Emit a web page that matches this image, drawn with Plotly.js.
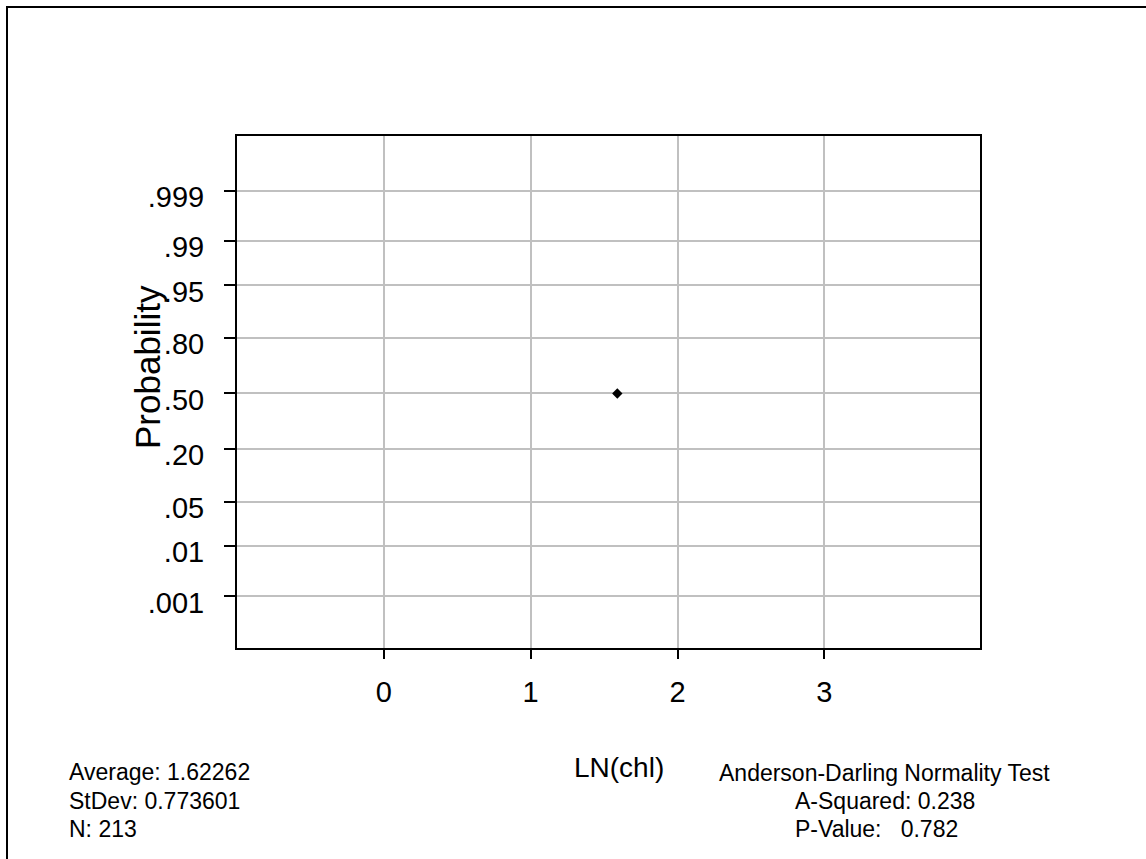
<!DOCTYPE html>
<html>
<head>
<meta charset="utf-8">
<script src="https://cdn.plot.ly/plotly-3.0.1.min.js"></script>
<style>html,body{margin:0;padding:0;background:#fff;}#chart{width:1146px;height:859px;}</style>
</head>
<body>
<div id="chart"></div>
<script>
// ---- data ----
const pointX = [1.59];
const pointProb = [0.50];
const probTicks = [0.001, 0.01, 0.05, 0.20, 0.50, 0.80, 0.95, 0.99, 0.999];
const probTickLabels = ['.001', '.01', '.05', '.20', '.50', '.80', '.95', '.99', '.999'];
const xTicks = [0, 1, 2, 3];
const xTickLabels = ['0', '1', '2', '3'];
const statsLeft = ['Average: 1.62262', 'StDev: 0.773601', 'N: 213'];
const testTitle = 'Anderson-Darling Normality Test';
const testLines = ['A-Squared: 0.238', 'P-Value:\u00a0\u00a0\u00a00.782'];

// inverse standard normal CDF (Acklam) - used as the probability-axis transform
function normInv(p) {
  const a = [-3.969683028665376e+01, 2.209460984245205e+02, -2.759285104469687e+02, 1.383577518672690e+02, -3.066479806614716e+01, 2.506628277459239e+00];
  const b = [-5.447609879822406e+01, 1.615858368580409e+02, -1.556989798598866e+02, 6.680131188771972e+01, -1.328068155288572e+01];
  const c = [-7.784894002430293e-03, -3.223964580411365e-01, -2.400758277161838e+00, -2.549732539343734e+00, 4.374664141464968e+00, 2.938163982698783e+00];
  const d = [7.784695709041462e-03, 3.224671290700398e-01, 2.445134137142996e+00, 3.754408661907416e+00];
  const pl = 0.02425, ph = 1 - pl;
  let q, r;
  if (p < pl) { q = Math.sqrt(-2 * Math.log(p)); return (((((c[0]*q+c[1])*q+c[2])*q+c[3])*q+c[4])*q+c[5]) / ((((d[0]*q+d[1])*q+d[2])*q+d[3])*q+1); }
  if (p <= ph) { q = p - 0.5; r = q*q; return (((((a[0]*r+a[1])*r+a[2])*r+a[3])*r+a[4])*r+a[5])*q / (((((b[0]*r+b[1])*r+b[2])*r+b[3])*r+b[4])*r+1); }
  q = Math.sqrt(-2 * Math.log(1 - p)); return -(((((c[0]*q+c[1])*q+c[2])*q+c[3])*q+c[4])*q+c[5]) / ((((d[0]*q+d[1])*q+d[2])*q+d[3])*q+1);
}

// ---- layout geometry (pixels) ----
const W = 1146, H = 859;
const L = 237, R = 166, T = 136, B = 211;
const PW = W - L - R, PH = H - T - B;
const px = v => (v - L) / PW;
const py = v => (H - B - v) / PH;

const FONT = '"Liberation Sans", Arial, sans-serif';
const TXT = 23;

const trace = {
  x: pointX,
  y: pointProb.map(normInv),
  type: 'scatter',
  mode: 'markers',
  marker: {symbol: 'diamond', size: 8, color: '#000000'},
  hoverinfo: 'skip',
  showlegend: false
};

function textLine(t, x, y, xanchor) {
  return {text: t, xref: 'paper', yref: 'paper', x: px(x), y: py(y),
          xanchor: xanchor, yanchor: 'middle', align: xanchor === 'center' ? 'center' : 'left',
          showarrow: false, font: {family: FONT, size: TXT, color: '#000000'}};
}

const leftRows = [772, 801, 829];
const rightRows = [773, 801, 829];

const layout = {
  width: W, height: H,
  margin: {l: L, r: R, t: T, b: B, pad: 0},
  paper_bgcolor: '#ffffff',
  plot_bgcolor: '#ffffff',
  font: {family: FONT, color: '#000000'},
  showlegend: false,
  xaxis: {
    range: [-1.0, 4.06],
    tickvals: xTicks,
    ticktext: xTickLabels,
    ticks: 'outside', ticklen: 9, tickwidth: 2, tickcolor: '#000000',
    tickfont: {family: FONT, size: 29, color: '#000000'},
    ticklabelstandoff: 8,
    showgrid: true, gridcolor: '#c0c0c0', gridwidth: 2,
    zeroline: false,
    showline: true, linecolor: '#000000', linewidth: 2, mirror: true,
    fixedrange: true
  },
  yaxis: {
    range: [-3.875, 3.92],
    tickvals: probTicks.map(normInv),
    ticktext: probTickLabels,
    ticks: 'outside', ticklen: 11, tickwidth: 2, tickcolor: '#000000',
    tickfont: {family: FONT, size: 29, color: '#000000'},
    ticklabelstandoff: 14,
    ticklabelshift: 6,
    showgrid: true, gridcolor: '#c0c0c0', gridwidth: 2,
    zeroline: false,
    showline: true, linecolor: '#000000', linewidth: 2, mirror: true,
    fixedrange: true
  },
  shapes: [{
    type: 'rect', xref: 'paper', yref: 'paper',
    x0: px(7), x1: px(1170), y0: py(880), y1: py(7),
    line: {color: '#000000', width: 2}, fillcolor: 'rgba(0,0,0,0)', layer: 'below'
  }],
  annotations: [
    {text: 'Probability', xref: 'paper', yref: 'paper', x: px(147), y: py(367),
     xanchor: 'center', yanchor: 'middle', textangle: -90, showarrow: false,
     font: {family: FONT, size: 35, color: '#000000'}},
    {text: 'LN(chl)', xref: 'paper', yref: 'paper', x: px(619), y: py(767),
     xanchor: 'center', yanchor: 'middle', showarrow: false,
     font: {family: FONT, size: 28, color: '#000000'}},
    textLine(statsLeft[0], 67, leftRows[0], 'left'),
    textLine(statsLeft[1], 67, leftRows[1], 'left'),
    textLine(statsLeft[2], 67, leftRows[2], 'left'),
    textLine(testTitle, 884, rightRows[0], 'center'),
    textLine(testLines[0], 793, rightRows[1], 'left'),
    textLine(testLines[1], 793, rightRows[2], 'left')
  ]
};

Plotly.newPlot('chart', [trace], layout, {staticPlot: true, displayModeBar: false});
</script>
</body>
</html>
